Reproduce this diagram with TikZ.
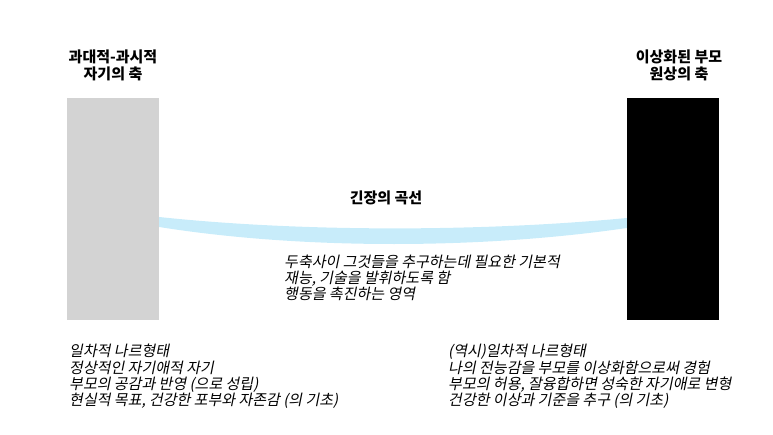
\documentclass[tikz,border=0pt]{standalone}
\usepackage{fontspec}
\usetikzlibrary{positioning}
\newfontfamily\kr{Noto Sans CJK KR}
\newfontfamily\krslant[FakeSlant=0.2]{Noto Sans CJK KR}
\definecolor{axisgray}{RGB}{211,211,211}
\definecolor{curveblue}{RGB}{200,236,250}
\tikzset
{
	axisbox/.style = {rectangle, minimum width=92pt, minimum height=222pt, inner sep=0pt},
	axistitle/.style = {align=center, inner sep=0pt, font=\kr\bfseries\fontsize{15}{17}\selectfont},
	note/.style = {align=left, inner sep=0pt, anchor=west, font=\krslant\fontsize{15}{16.3}\selectfont}
}

\begin{document}
\begin{tikzpicture}[x=1pt, y=-1pt]
	\useasboundingbox (0,0) rectangle (773,435);
	\node[axisbox, fill=axisgray] (selfaxis) at (113,209) {};
	\node[axisbox, fill=black] (parentaxis) at (673,209) {};
	\node[axistitle, above=17pt of selfaxis] (selftitle) {과대적-과시적\\자기의 축};
	\node[axistitle, above=17pt of parentaxis, xshift=6pt] (parenttitle) {이상화된 부모\\원상의 축};
	\fill[curveblue] ([yshift=-8pt]selfaxis.east) .. controls +(141,15) and +(-147,14) .. ([yshift=-9pt]parentaxis.west)
		-- ([yshift=-19pt]parentaxis.west) .. controls +(-147,21.5) and +(141,22.5) .. ([yshift=-18pt]selfaxis.east) -- cycle;
	\node[axistitle] (curvetitle) at (386,198) {긴장의 곡선};
	\node[note, font=\krslant\fontsize{15}{15.2}\selectfont] (curvenote) at (284,278) {두축사이 그것들을 추구하는데 필요한 기본적\\재능, 기술을 발휘하도록 함\\행동을 촉진하는 영역};
	\node[note] (selfnote) at (69,376.5) {일차적 나르형태\\정상적인 자기애적 자기\\부모의 공감과 반영 (으로 성립)\\현실적 목표, 건강한 포부와 자존감 (의 기초)};
	\node[note] (parentnote) at (448,376.5) {(역시)일차적 나르형태\\나의 전능감을 부모를 이상화함으로써 경험\\부모의 허용, 잘융합하면 성숙한 자기애로 변형\\건강한 이상과 기준을 추구 (의 기초)};
\end{tikzpicture}
\end{document}
